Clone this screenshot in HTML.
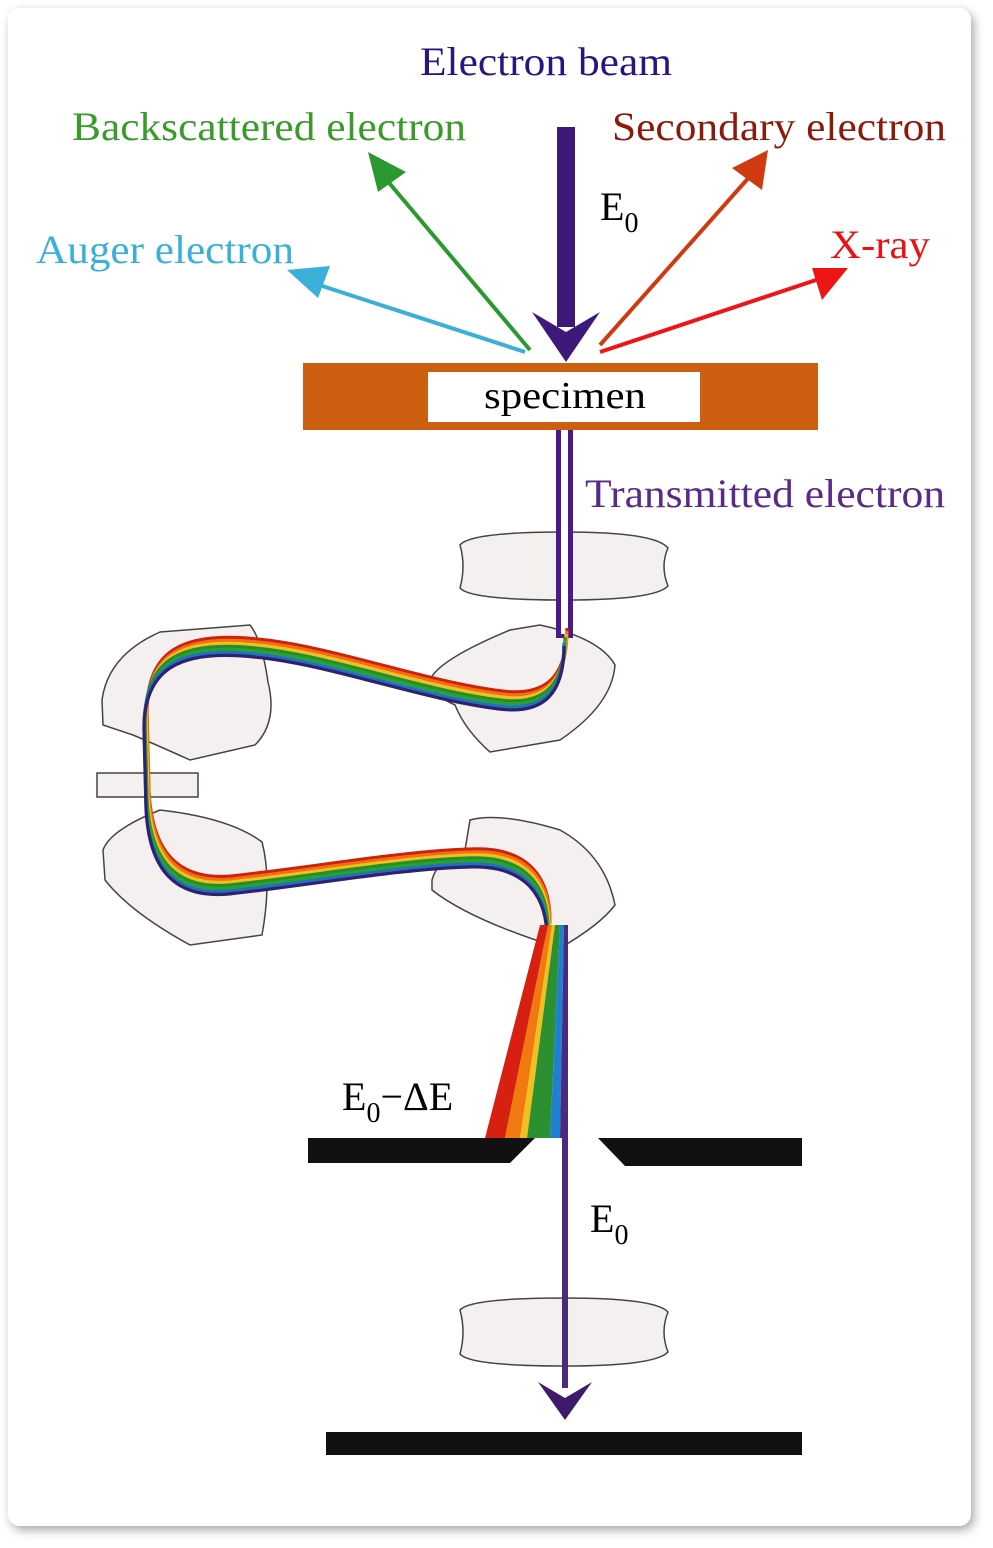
<!DOCTYPE html>
<html><head><meta charset="utf-8"><style>
body{margin:0;background:#fff;}
svg{display:block;}
text{font-family:"Liberation Serif",serif;}
</style></head><body>
<svg width="993" height="1548" viewBox="0 0 993 1548">
<defs>
<filter id="sh" x="-5%" y="-5%" width="110%" height="110%"><feDropShadow dx="3" dy="4" stdDeviation="5" flood-color="#000" flood-opacity="0.35"/></filter>
</defs>
<rect x="8" y="8" width="963" height="1518" rx="12" fill="#fff" filter="url(#sh)"/>

<text x="420" y="75" font-size="40" fill="#2a1580" textLength="252" lengthAdjust="spacingAndGlyphs">Electron beam</text>
<g>
<rect x="557" y="127" width="18" height="200" fill="#3d1a7a"/>
<polygon points="532,312 566,332 600,312 566,362" fill="#3d1a7a"/>
</g>
<text x="600" y="220" font-size="40" fill="#000">E<tspan font-size="28" dy="12">0</tspan></text>

<text x="72" y="140" font-size="40" fill="#3a9a2a" textLength="394" lengthAdjust="spacingAndGlyphs">Backscattered electron</text>
<g>
<line x1="530" y1="350" x2="385" y2="178" stroke="#2a9a30" stroke-width="4"/>
<polygon points="368,152 406,172 378,192" fill="#2a9a30"/>
</g>
<text x="612" y="140" font-size="40" fill="#8b1a0a" textLength="334" lengthAdjust="spacingAndGlyphs">Secondary electron</text>
<g>
<line x1="600" y1="345" x2="752" y2="174" stroke="#d03a10" stroke-width="4"/>
<polygon points="768,150 762,190 732,168" fill="#d03a10"/>
</g>
<text x="36" y="263" font-size="40" fill="#3ab0d8" textLength="258" lengthAdjust="spacingAndGlyphs">Auger electron</text>
<g>
<line x1="525" y1="352" x2="310" y2="282" stroke="#3ab0d8" stroke-width="4"/>
<polygon points="287,270 330,266 318,298" fill="#3ab0d8"/>
</g>
<text x="830" y="258" font-size="40" fill="#ee1010" textLength="100" lengthAdjust="spacingAndGlyphs">X-ray</text>
<g>
<line x1="600" y1="352" x2="822" y2="278" stroke="#ee1515" stroke-width="4"/>
<polygon points="848,268 812,268 822,300" fill="#ee1515"/>
</g>

<g>
<rect x="303" y="363" width="515" height="67" fill="#cc6010"/>
<rect x="428" y="372" width="272" height="50" fill="#fff"/>
<text x="484" y="408" font-size="38" fill="#000" textLength="162" lengthAdjust="spacingAndGlyphs">specimen</text>
</g>

<g fill="#f4f0ef" stroke="#444" stroke-width="1.5">
<path d="M460,545 Q470,532 565,532 Q655,532 668,548 Q660,566 668,586 Q655,600 565,600 Q470,600 460,588 Q466,566 460,545Z"/>
<path d="M102,700 Q108,655 160,632 L250,625 Q262,640 268,682 Q278,722 255,745 L190,760 Q150,742 133,735 L103,725Z"/>
<path d="M430,680 Q438,660 510,630 L540,625 Q600,638 615,665 Q612,705 560,740 L490,752 Q465,730 455,705 Q432,695 430,680Z"/>
<rect x="97" y="773" width="101" height="24"/>
<path d="M103,850 Q110,830 160,810 Q230,818 262,842 Q272,880 262,935 L190,945 Q130,912 105,880Z"/>
<path d="M432,880 Q438,858 465,850 L470,820 Q500,812 560,830 Q605,855 615,905 Q600,925 560,948 Q470,920 432,890Z"/>
<path d="M460,1310 Q470,1298 565,1298 Q655,1298 668,1312 Q660,1332 668,1352 Q655,1366 565,1366 Q470,1366 460,1354 Q466,1332 460,1310Z"/>
</g>

<g>
<rect x="556" y="430" width="17" height="208" fill="#4a1a8a"/>
<rect x="561" y="430" width="7" height="204" fill="#fff"/>
</g>
<text x="585" y="507" font-size="40" fill="#5a2a8a" textLength="360" lengthAdjust="spacingAndGlyphs">Transmitted electron</text>

<g fill="none" stroke-width="3.2">
<g id="bp"><path d="M565,637 C565,690 540,705 500,700 C420,690 330,655 255,648 C180,640 145,660 145,720 L147,800 C150,860 175,890 230,885 C320,875 400,860 470,858 C520,856 548,880 548,930"/></g>
<use href="#bp" stroke="#d02010" transform="translate(2,-9)"/>
<use href="#bp" stroke="#f07010" transform="translate(2,-6)"/>
<use href="#bp" stroke="#f0c020" transform="translate(1,-3)"/>
<use href="#bp" stroke="#20902a" transform="translate(0,0)"/>
<use href="#bp" stroke="#2aa030" transform="translate(0,3)"/>
<use href="#bp" stroke="#2070c0" transform="translate(-1,6)"/>
<use href="#bp" stroke="#302070" transform="translate(-1,9)"/>
</g>
<g>
<polygon points="540,925 548,925 505,1138 485,1138" fill="#d82010"/>
<polygon points="548,925 552,925 520,1138 505,1138" fill="#f07a10"/>
<polygon points="552,925 555,925 527,1138 520,1138" fill="#f0c020"/>
<polygon points="555,925 560,925 550,1138 527,1138" fill="#2a9030"/>
<polygon points="560,925 564,925 560,1138 550,1138" fill="#2080d0"/>
<polygon points="564,925 568,925 568,1138 560,1138" fill="#4a2a80"/>
</g>

<text x="342" y="1110" font-size="40" fill="#000">E<tspan font-size="28" dy="12">0</tspan><tspan dy="-12">−ΔE</tspan></text>
<g fill="#111">
<polygon points="308,1138 535,1138 510,1163 308,1163"/>
<polygon points="598,1138 802,1138 802,1166 625,1166"/>
</g>
<g>
<rect x="562" y="1138" width="6" height="250" fill="#4a2a7a"/>
<polygon points="538,1382 565,1398 592,1382 565,1420" fill="#3d1a6a"/>
</g>
<text x="590" y="1232" font-size="40" fill="#000">E<tspan font-size="28" dy="12">0</tspan></text>
<rect x="326" y="1432" width="476" height="23" fill="#111"/>
</svg>
</body></html>
